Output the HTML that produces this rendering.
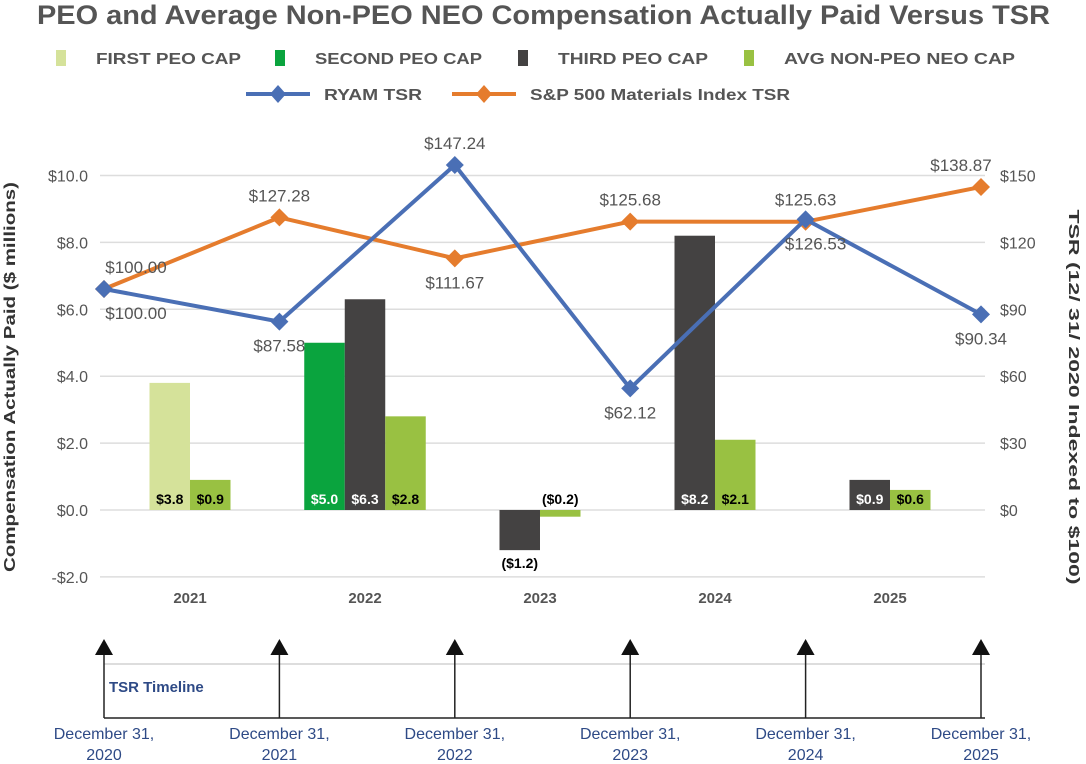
<!DOCTYPE html>
<html><head><meta charset="utf-8"><style>
body{margin:0;background:#fff;}
svg{display:block;font-family:"Liberation Sans",Arial,sans-serif;}
</style></head><body>
<svg id="c" width="1086" height="764" viewBox="0 0 1086 764">
<text x="37" y="24" textLength="1013" lengthAdjust="spacingAndGlyphs" font-size="27" font-weight="bold" fill="#555">PEO and Average Non-PEO NEO Compensation Actually Paid Versus TSR</text>
<g>
 <g><rect x="56" y="50" width="10" height="16" fill="#d5e29a"/><text x="96" y="64" font-size="16" font-weight="bold" fill="#555" textLength="145" lengthAdjust="spacingAndGlyphs">FIRST PEO CAP</text></g>
 <g><rect x="275" y="50" width="10" height="16" fill="#0aa43e"/><text x="315" y="64" font-size="16" font-weight="bold" fill="#555" textLength="167" lengthAdjust="spacingAndGlyphs">SECOND PEO CAP</text></g>
 <g><rect x="518" y="50" width="10" height="16" fill="#444242"/><text x="558" y="64" font-size="16" font-weight="bold" fill="#555" textLength="150" lengthAdjust="spacingAndGlyphs">THIRD PEO CAP</text></g>
 <g><rect x="744" y="50" width="10" height="16" fill="#99c142"/><text x="784" y="64" font-size="16" font-weight="bold" fill="#555" textLength="231" lengthAdjust="spacingAndGlyphs">AVG NON-PEO NEO CAP</text></g>
 <g><line x1="246" y1="94" x2="310" y2="94" stroke="#4a6fb5" stroke-width="4"/><path d="M278 85 L286 94 L278 103 L270 94Z" fill="#4a6fb5"/><text x="324" y="100" font-size="16" font-weight="bold" fill="#555" textLength="98" lengthAdjust="spacingAndGlyphs">RYAM TSR</text></g>
 <g><line x1="452" y1="94" x2="516" y2="94" stroke="#e57c2d" stroke-width="4"/><path d="M484 85 L492 94 L484 103 L476 94Z" fill="#e57c2d"/><text x="530" y="100" font-size="16" font-weight="bold" fill="#555" textLength="260" lengthAdjust="spacingAndGlyphs">S&amp;P 500 Materials Index TSR</text></g>
</g>
<text transform="translate(15,377) rotate(-90)" text-anchor="middle" font-size="16" font-weight="bold" fill="#333" textLength="390" lengthAdjust="spacingAndGlyphs">Compensation Actually Paid ($ millions)</text>
<text transform="translate(1069,397) rotate(90)" text-anchor="middle" font-size="15" font-weight="bold" fill="#333" textLength="375" lengthAdjust="spacingAndGlyphs">TSR (12/ 31/ 2020 Indexed to $100)</text>
<g id="grid"></g><g id="bars"></g><g id="lines"></g><g id="tl"></g>
</svg>
<script>
const categories=["2021","2022","2023","2024","2025"];
const firstPeo=[3.8,null,null,null,null];
const secondPeo=[null,5.0,null,null,null];
const thirdPeo=[null,6.3,-1.2,8.2,0.9];
const avgNeo=[0.9,2.8,-0.2,2.1,0.6];
const leftTicks=[-2,0,2,4,6,8,10];
const rightTicks=["$0","$30","$60","$90","$120","$150"];
const tsrDates=["2020","2021","2022","2023","2024","2025"];
const ryamTsr=[100.00,87.58,147.24,62.12,126.53,90.34];
const spTsr=[100.00,127.28,111.67,125.68,125.63,138.87];
const NS="http://www.w3.org/2000/svg";
function mk(p,t,a,txt){const e=document.createElementNS(NS,t);for(const k in a)e.setAttribute(k,a[k]);if(txt!=null)e.textContent=txt;p.appendChild(e);return e;}
const yL=v=>510-v*33.45;
const yT=v=>551.5-v*2.625;
const xC=i=>190+i*175;
const xT=i=>104+i*175.4;
const grid=document.getElementById('grid');
leftTicks.forEach(v=>{
 const l=mk(grid,'line',{x1:100,x2:985,y1:yL(v),y2:yL(v),stroke:'#ddd','stroke-width':1.5});
 
 
 const t=mk(grid,'text',{x:88,y:yL(v)+6,'text-anchor':'end','font-size':16,fill:'#555'},(v<0?'-$':'$')+Math.abs(v).toFixed(1));
 
 
});
rightTicks.forEach((s,i)=>{
 const t=mk(grid,'text',{x:1000,y:yL(i*2)+6,'font-size':16,fill:'#555'},s);
 
 
});
categories.forEach((c,i)=>{
 const t=mk(grid,'text',{x:xC(i),y:603,'text-anchor':'middle','font-size':15,'font-weight':'bold',fill:'#555'},c);
 
 
});
const bars=document.getElementById('bars');
const series=[[firstPeo,'#d5e29a','#000'],[secondPeo,'#0aa43e','#fff'],[thirdPeo,'#444242','#fff'],[avgNeo,'#99c142','#000']];
const W=40.5;
categories.forEach((c,i)=>{
 const present=series.filter(s=>s[0][i]!=null);
 const x0=xC(i)-present.length*W/2;
 present.forEach((s,j)=>{
  const v=s[0][i],x=x0+j*W,y1=yL(Math.max(v,0)),y2=yL(Math.min(v,0));
  const r=mk(bars,'rect',{x:x,y:y1,width:W,height:y2-y1,fill:s[1]});
  
  
  const lbl=(v<0?'($'+Math.abs(v).toFixed(1)+')':'$'+v.toFixed(1));
  let ty,col;
  if(v<0){ty=yL(v)+18;col='#000';if(Math.abs(v)<0.5)ty=yL(0)-6;}else{ty=504;col=s[2];}
  const t=mk(bars,'text',{x:x+W/2,y:ty,'text-anchor':'middle','font-size':14,'font-weight':'bold',fill:col},lbl);
  
  
 });
});
const lines=document.getElementById('lines');
function drawLine(vals,color,name,labelPos,dx){
 const pts=vals.map((v,i)=>xT(i)+','+yT(v)).join(' ');
 const pl=mk(lines,'polyline',{points:pts,fill:'none',stroke:color,'stroke-width':4,'stroke-linejoin':'round'});
 
 
 vals.forEach((v,i)=>{
  const x=xT(i),y=yT(v);
  const m=mk(lines,'path',{d:`M${x} ${y-9}L${x+9} ${y}L${x} ${y+9}L${x-9} ${y}Z`,fill:color});
  
  
  const up=labelPos[i];
  const t=mk(lines,'text',{x:x+dx[i],y:up?y-16:y+30,'text-anchor':'middle','font-size':17,fill:'#555'},'$'+v.toFixed(2));
  
  
 });
}
drawLine(spTsr,'#e57c2d','sp500-tsr',[1,1,0,1,1,1],[32,0,0,0,0,-20]);
drawLine(ryamTsr,'#4a6fb5','ryam-tsr',[0,0,1,0,0,0],[32,0,0,0,10,0]);
const tl=document.getElementById('tl');
mk(tl,'line',{x1:104,x2:985,y1:664,y2:664,stroke:'#ddd','stroke-width':2});
mk(tl,'line',{x1:104,x2:985,y1:718,y2:718,stroke:'#222','stroke-width':1.5});
const tt=mk(tl,'text',{x:109,y:692,'font-size':15,'font-weight':'bold',fill:'#2e4a86'},'TSR Timeline');


tsrDates.forEach((d,i)=>{
 const x=xT(i);
 mk(tl,'line',{x1:x,x2:x,y1:652,y2:718,stroke:'#222','stroke-width':1.5});
 const a=mk(tl,'path',{d:`M${x} 639L${x+9} 655L${x-9} 655Z`,fill:'#111'});
 
 
 const t=mk(tl,'text',{x:x,y:739,'text-anchor':'middle','font-size':16,fill:'#2e4a86'},'December 31,');
 
 
 const t2=mk(tl,'text',{x:x,y:760,'text-anchor':'middle','font-size':16,fill:'#2e4a86'},d);
 
 
});
</script>
</body></html>
